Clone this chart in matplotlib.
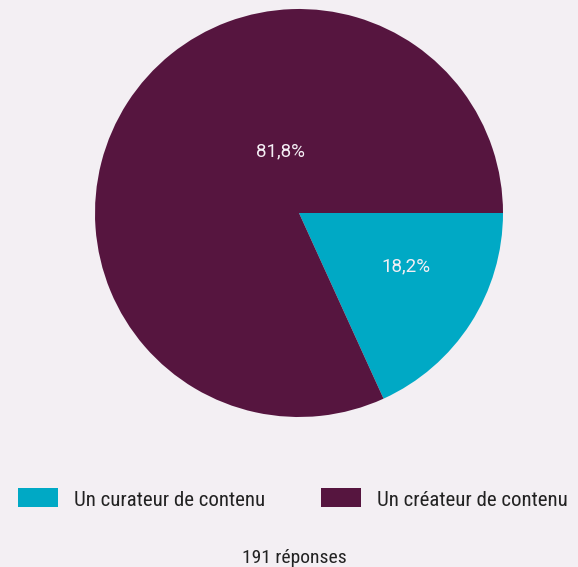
import matplotlib.pyplot as plt
from matplotlib.patches import Rectangle

# data
labels = ["Un curateur de contenu", "Un créateur de contenu"]
shares = [18.2, 81.8]
colors = ["#00A9C5", "#56153F"]
pct_text = ["18,2%", "81,8%"]
label_pos = [(0.525, -0.26), (-0.09, 0.30)]
footer = "191 réponses"

W, H = 578, 567
bg = "#F3EFF3"

fig = plt.figure(figsize=(W / 100, H / 100), dpi=100, facecolor=bg)

# pie axes in pixel coordinates: centre (299, 213), radius 204
cx, cy, r = 299, 213, 204
ax = fig.add_axes([(cx - r) / W, (H - cy - r) / H, 2 * r / W, 2 * r / H])
ax.set_facecolor(bg)
ax.pie(shares, colors=colors, startangle=0, counterclock=False, radius=1,
       wedgeprops=dict(linewidth=0))
ax.set_xlim(-1, 1)
ax.set_ylim(-1, 1)
ax.set_aspect("equal")
ax.axis("off")

for txt, (x, y) in zip(pct_text, label_pos):
    ax.text(x, y, txt, color="#F4EEF4", fontsize=13.5, family="Roboto",
            ha="center", va="center")

# legend drawn in figure pixels
fig_ax = fig.add_axes([0, 0, 1, 1], zorder=-1)
fig_ax.set_xlim(0, W)
fig_ax.set_ylim(H, 0)
fig_ax.axis("off")
legend_x = [18, 321]
for lx, lab, col in zip(legend_x, labels, colors):
    fig_ax.add_patch(Rectangle((lx, 488), 40, 19, color=col, linewidth=0))
    fig_ax.text(lx + 56, 506, lab, fontsize=15, family="Roboto Condensed",
                color="#222222", ha="left", va="baseline")

fig_ax.text(294, 563, footer, fontsize=14, family="Roboto Condensed",
            color="#222222", ha="center", va="baseline")

fig.savefig("out.png", dpi=100, facecolor=bg)
